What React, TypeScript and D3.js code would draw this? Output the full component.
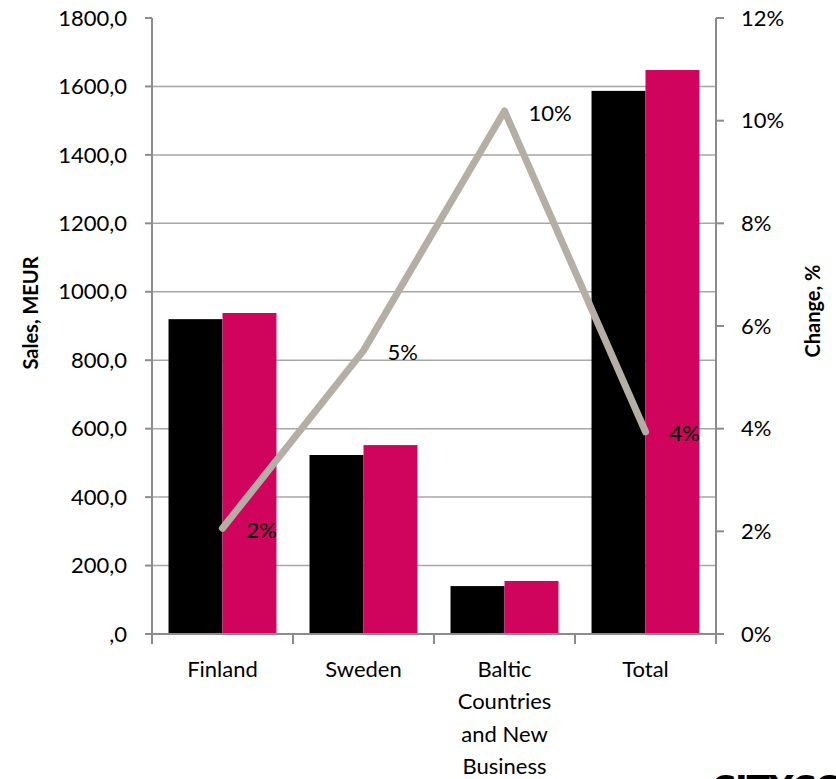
import React, { useEffect } from "react";
import * as d3 from "d3";

const categories: string[][] = [["Finland"], ["Sweden"], ["Baltic", "Countries", "and New", "Business"], ["Total"]];
const categoryKeys = ["Finland", "Sweden", "Baltic", "Total"];
const salesPrev = [920, 523, 140, 1587];
const salesCurr = [938, 552, 155, 1648];
const changePct = [2.06, 5.52, 10.19, 3.94];
const changeLabels = ["2%", "5%", "10%", "4%"];
const leftTicks = [0, 200, 400, 600, 800, 1000, 1200, 1400, 1600, 1800];
const rightTicks = [0, 2, 4, 6, 8, 10, 12];

const W = 836;
const H = 779;
const FONT = "Lato, 'Noto Sans', sans-serif";

export default function App() {
  useEffect(() => {
    document.body.style.margin = "0";
  }, []);

  const left = 152;
  const right = 716;
  const top = 18;
  const bottom = 634;

  const y = d3.scaleLinear().domain([0, 1800]).range([bottom, top]);
  const y2 = d3.scaleLinear().domain([0, 12]).range([bottom, top]);
  const x = d3.scaleBand<string>().domain(categoryKeys).range([left, right]).paddingInner(0).paddingOuter(0);
  const xs = d3.scaleBand<string>().domain(["prev", "curr"]).range([0, x.bandwidth()]).paddingInner(0).paddingOuter(0.306);

  const line = d3
    .line<number>()
    .x((_, i) => (x(categoryKeys[i]) as number) + x.bandwidth() / 2)
    .y((d) => y2(d));

  const fmtLeft = (v: number) => (v === 0 ? ",0" : `${v},0`);

  const gridColor = "#a6a6a6";
  const axisColor = "#8c8c8c";
  const fs = 22;

  return (
    <svg width={W} height={H} style={{ display: "block" }} fontFamily={FONT}>
      <rect x={0} y={0} width={W} height={H} fill="#ffffff" />
      {/* gridlines */}
      {leftTicks
        .filter((t) => t > 0 && t < 1800)
        .map((t) => (
          <line key={"g" + t} x1={left} x2={right} y1={y(t)} y2={y(t)} stroke={gridColor} strokeWidth={1.5} />
        ))}
      {/* bars */}
      {categoryKeys.map((c, i) => {
        const x0 = x(c) as number;
        return (
          <g key={c}>
            <rect x={x0 + (xs("prev") as number)} y={y(salesPrev[i])} width={xs.bandwidth()} height={bottom - y(salesPrev[i])} fill="#000000" />
            <rect x={x0 + (xs("curr") as number)} y={y(salesCurr[i])} width={xs.bandwidth()} height={bottom - y(salesCurr[i])} fill="#d0045c" />
          </g>
        );
      })}
      {/* axes */}
      <line x1={left} x2={left} y1={top} y2={bottom} stroke={axisColor} strokeWidth={2} />
      <line x1={right} x2={right} y1={top} y2={bottom} stroke={axisColor} strokeWidth={2} />
      <line x1={left - 7} x2={right + 8} y1={bottom} y2={bottom} stroke={axisColor} strokeWidth={2} />
      {leftTicks.map((t) => (
        <g key={"l" + t}>
          <line x1={left - 7} x2={left} y1={y(t)} y2={y(t)} stroke={axisColor} strokeWidth={2} />
          <text x={127} y={y(t)} dy="0.35em" textAnchor="end" fontSize={fs} fill="#000">
            {fmtLeft(t)}
          </text>
        </g>
      ))}
      {rightTicks.map((t) => (
        <g key={"r" + t}>
          <line x1={right} x2={right + 8} y1={y2(t)} y2={y2(t)} stroke={axisColor} strokeWidth={2} />
          <text x={741} y={y2(t)} dy="0.35em" textAnchor="start" fontSize={fs} fill="#000">
            {`${t}%`}
          </text>
        </g>
      ))}
      {/* category ticks */}
      {categoryKeys.map((c) => (
        <line key={"ct" + c} x1={x(c) as number} x2={x(c) as number} y1={bottom} y2={bottom + 10} stroke={axisColor} strokeWidth={2} />
      ))}
      <line x1={right} x2={right} y1={bottom} y2={bottom + 10} stroke={axisColor} strokeWidth={2} />
      {/* category labels */}
      {categoryKeys.map((c, i) => (
        <text key={"cl" + c} x={(x(c) as number) + x.bandwidth() / 2} y={669} textAnchor="middle" fontSize={fs} fill="#000">
          {categories[i].map((ln, j) => (
            <tspan key={j} x={(x(c) as number) + x.bandwidth() / 2} y={669 + j * 32.5} dy="0.35em">
              {ln}
            </tspan>
          ))}
        </text>
      ))}
      {/* line */}
      <path d={line(changePct) || ""} fill="none" stroke="#b5aea4" strokeWidth={7} strokeLinecap="round" strokeLinejoin="round" />
      {changePct.map((v, i) => (
        <text key={"dl" + i} x={(x(categoryKeys[i]) as number) + x.bandwidth() / 2 + 24} y={y2(v) + 2} dy="0.35em" fontSize={fs} fill="#000">
          {changeLabels[i]}
        </text>
      ))}
      {/* axis titles */}
      <text transform={`translate(31,${313}) rotate(-90)`} textAnchor="middle" dy="0.35em" fontSize={20} fontWeight="bold" fill="#000">
        Sales, MEUR
      </text>
      <text transform={`translate(813,${311}) rotate(-90)`} textAnchor="middle" dy="0.35em" fontSize={20} fontWeight="bold" fill="#000">
        Change, %
      </text>
      {/* logo fragment */}
      <text x={711} y={800} fontSize={34} fontWeight="900" fill="#000" fontFamily="'DejaVu Sans', sans-serif" letterSpacing={-1}>
        CITYCON
      </text>
    </svg>
  );
}
